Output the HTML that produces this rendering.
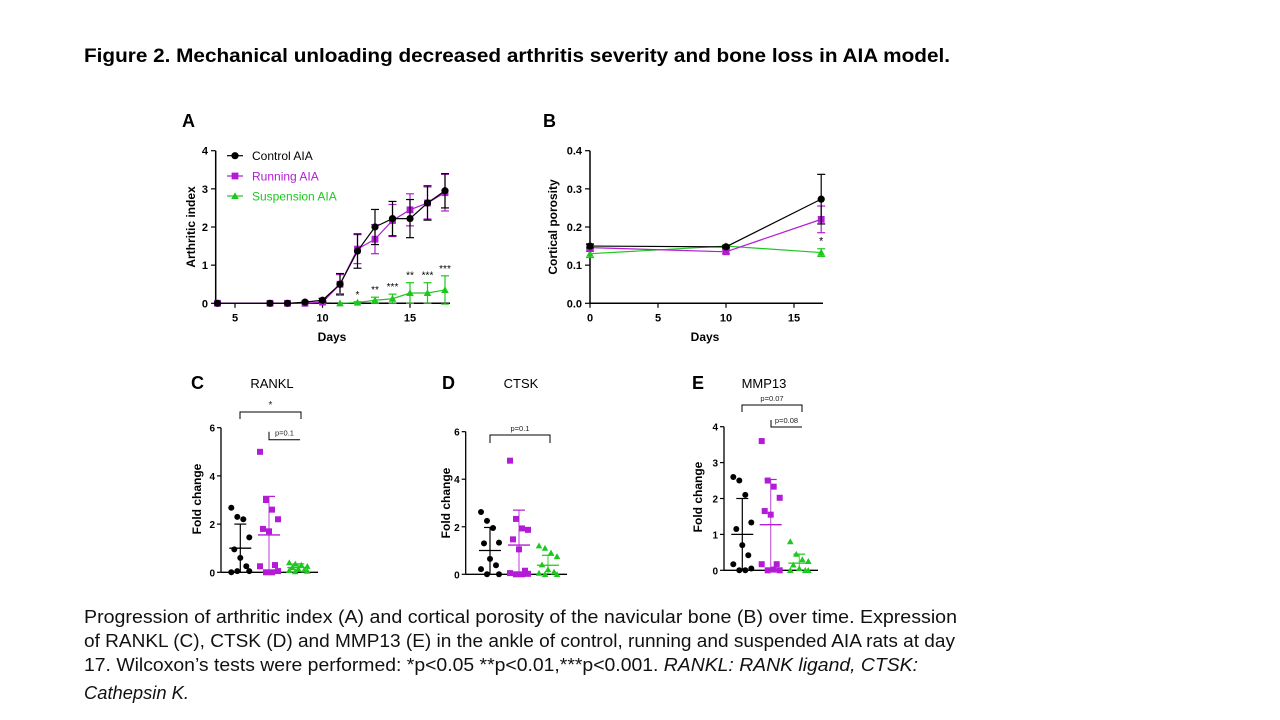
<!DOCTYPE html>
<html><head><meta charset="utf-8"><style>
html,body{margin:0;padding:0;background:#fff;}
svg{display:block;font-family:"Liberation Sans",Arial,sans-serif;}
</style></head><body>
<svg id="fig" width="1280" height="720" viewBox="0 0 1280 720" xmlns="http://www.w3.org/2000/svg">
<text x="84" y="62" font-size="19" font-weight="bold" textLength="866" lengthAdjust="spacingAndGlyphs">Figure 2. Mechanical unloading decreased arthritis severity and bone loss in AIA model.</text>
<g font-size="18" fill="#111">
<text x="84" y="623" textLength="873" lengthAdjust="spacingAndGlyphs">Progression of arthritic index (A) and cortical porosity of the navicular bone (B) over time.  Expression</text>
<text x="84" y="647" textLength="871" lengthAdjust="spacingAndGlyphs">of RANKL (C), CTSK (D) and MMP13 (E) in the ankle of control, running and suspended AIA rats at day</text>
<text x="84" y="671" textLength="834" lengthAdjust="spacingAndGlyphs">17. Wilcoxon’s tests were performed:  *p&lt;0.05 **p&lt;0.01,***p&lt;0.001.  <tspan font-style="italic">RANKL: RANK ligand, CTSK:</tspan></text>
<text x="84" y="699" font-style="italic" textLength="105" lengthAdjust="spacingAndGlyphs">Cathepsin K.</text>
</g>
<g id="plots"></g>
</svg>
<script>
// ---- Panel A data ----
const aDays = [4,7,8,9,10,11,12,13,14,15,16,17];
const aCtrl = [0,0,0,0.03,0.08,0.5,1.37,2.0,2.22,2.22,2.63,2.95];
const aCtrlErr = [0,0,0,0,0.05,0.28,0.45,0.46,0.45,0.5,0.45,0.45];
const aRun = [0,0,0,0,0.03,0.5,1.42,1.68,2.17,2.45,2.63,2.9];
const aRunErr = [0,0,0,0,0.03,0.25,0.38,0.38,0.42,0.42,0.42,0.48];
const aSuspDays = [11,12,13,14,15,16,17];
const aSusp = [0,0.02,0.08,0.12,0.27,0.27,0.35];
const aSuspErr = [0,0.02,0.08,0.12,0.27,0.27,0.37];
const aStars = ["*","*","**","***","**","***","***"];
// ---- Panel B data ----
const bDays = [0,10,17];
const bCtrl = [0.15,0.148,0.273];
const bCtrlErr = [0.005,0.003,0.065];
const bRun = [0.146,0.135,0.22];
const bRunErr = [0.01,0.005,0.035];
const bSusp = [0.13,0.15,0.133];
const bSuspErr = [0.01,0.003,0.01];
// ---- Panel C (RANKL) ----
const cCtrl = [2.68,2.3,2.2,1.45,0.95,0.6,0.25,0.0,0.05,0.05];
const cRun = [5.0,3.0,2.6,2.2,1.8,1.7,0.3,0.25,0.05,0.0,0.0];
const cSusp = [0.4,0.35,0.3,0.25,0.2,0.15,0.1,0.08,0.05,0.03];
const cMean = [1.0,1.55,0.2];
const cSd = [1.0,1.6,0.15];
// ---- Panel D (CTSK) ----
const dCtrl = [2.62,2.25,1.95,1.33,1.3,0.65,0.38,0.22,0,0];
const dRun = [4.78,2.33,1.93,1.87,1.47,1.05,0.15,0.05,0.02,0.0,0];
const dSusp = [1.2,1.1,0.9,0.75,0.4,0.2,0.1,0.05,0,0];
const dMean = [1.0,1.23,0.38];
const dSd = [0.97,1.47,0.42];
// ---- Panel E (MMP13) ----
const eCtrl = [2.6,2.5,2.1,1.33,1.15,0.7,0.42,0.17,0.05,0,0];
const eRun = [3.6,2.5,2.33,2.02,1.65,1.55,0.17,0.17,0,0,0.02];
const eSusp = [0.8,0.45,0.3,0.25,0.15,0.05,0,0,0];
const eMean = [1.0,1.27,0.2];
const eSd = [1.0,1.26,0.25];

const NS="http://www.w3.org/2000/svg";
const root=document.getElementById('plots');
const BLK="#000", PUR="#b31bd6", GRN="#1ec71e";
function el(tag,attrs,parent,text){const e=document.createElementNS(NS,tag);for(const k in attrs)e.setAttribute(k,attrs[k]);if(text!==undefined)e.textContent=text;(parent||root).appendChild(e);return e;}
function grp(name){const g=el('g',{});return g;}
function marker(g,type,x,y,c,s){
  let m;
  if(type==='c') m=el('circle',{cx:x,cy:y,r:s||3.6,fill:c},g);
  else if(type==='s'){const h=s||3.4;m=el('rect',{x:x-h,y:y-h,width:2*h,height:2*h,fill:c},g);}
  else {const h=s||3.8;m=el('polygon',{points:`${x},${y-h} ${x+h},${y+h*0.8} ${x-h},${y+h*0.8}`,fill:c},g);}
  return m;
}
function text(g,x,y,t,o){return el('text',Object.assign({x:x,y:y},o||{}),g,t);}

// ===== Panel A =====
(function(){
  const g=grp('panel-a-arthritic-index');
  const X=d=>217.5+(d-4)*17.5, Y=v=>303.3-v*38.15;
  text(g,182,127,'A',{'font-size':18,'font-weight':'bold'});
  el('line',{x1:215.7,y1:Y(4),x2:215.7,y2:Y(0),stroke:BLK,'stroke-width':1.5},g);
  el('line',{x1:215.7,y1:Y(0),x2:450,y2:Y(0),stroke:BLK,'stroke-width':1.5},g);
  [0,1,2,3,4].forEach(v=>{el('line',{x1:211,y1:Y(v),x2:215.7,y2:Y(v),stroke:BLK,'stroke-width':1.2},g);text(g,208,Y(v)+4,String(v),{'font-size':11,'font-weight':'bold','text-anchor':'end'});});
  [5,10,15].forEach(d=>{el('line',{x1:X(d),y1:Y(0),x2:X(d),y2:Y(0)+4.5,stroke:BLK,'stroke-width':1.2},g);text(g,X(d),Y(0)+18,String(d),{'font-size':11,'font-weight':'bold','text-anchor':'middle'});});
  text(g,332,341,'Days',{'font-size':12,'font-weight':'bold','text-anchor':'middle'});
  text(g,0,0,'Arthritic index',{'font-size':12,'font-weight':'bold','text-anchor':'middle',transform:`translate(195,227) rotate(-90)`});
  function series(days,vals,errs,c,m,name,w){
    const s=el('g',{},g);
    el('polyline',{points:days.map((d,i)=>X(d)+','+Y(vals[i])).join(' '),fill:'none',stroke:c,'stroke-width':w||1.2},s);
    days.forEach((d,i)=>{if(errs[i]>0){el('line',{x1:X(d),y1:Y(vals[i]-errs[i]),x2:X(d),y2:Y(vals[i]+errs[i]),stroke:c,'stroke-width':1.2},s);[vals[i]-errs[i],vals[i]+errs[i]].forEach(v=>el('line',{x1:X(d)-4,y1:Y(v),x2:X(d)+4,y2:Y(v),stroke:c,'stroke-width':1.2},s));}});
    days.forEach((d,i)=>marker(s,m,X(d),Y(vals[i]),c));
  }
  series(aSuspDays,aSusp,aSuspErr,GRN,'t','series-suspension-aia');
  series(aDays,aRun,aRunErr,PUR,'s','series-running-aia');
  series(aDays,aCtrl,aCtrlErr,BLK,'c','series-control-aia');
  aSuspDays.forEach((d,i)=>{const t=text(g,X(d),Y(aSusp[i]+aSuspErr[i])-4,aStars[i],{'font-size':10,'text-anchor':'middle',fill:i===0?'#777':BLK});});
  const lg=el('g',{},g);
  [['Control AIA',BLK,'c',155.7],['Running AIA',PUR,'s',176],['Suspension AIA',GRN,'t',196]].forEach(r=>{
    const e=el('g',{},lg);
    el('line',{x1:227,y1:r[3],x2:243,y2:r[3],stroke:r[1],'stroke-width':1.2},e);marker(e,r[2],235,r[3],r[1]);
    text(e,252,r[3]+4.5,r[0],{'font-size':12,fill:r[1]});
  });
})();

// ===== Panel B =====
(function(){
  const g=grp('panel-b-cortical-porosity');
  const X=d=>590+d*13.6, Y=v=>303.3-v*381.5;
  text(g,543,127,'B',{'font-size':18,'font-weight':'bold'});
  el('line',{x1:590,y1:Y(0.4),x2:590,y2:Y(0),stroke:BLK,'stroke-width':1.5},g);
  el('line',{x1:590,y1:Y(0),x2:823,y2:Y(0),stroke:BLK,'stroke-width':1.5},g);
  [0,0.1,0.2,0.3,0.4].forEach(v=>{el('line',{x1:585,y1:Y(v),x2:590,y2:Y(v),stroke:BLK,'stroke-width':1.2},g);text(g,582,Y(v)+4,v.toFixed(1),{'font-size':11,'font-weight':'bold','text-anchor':'end'});});
  [0,5,10,15].forEach(d=>{el('line',{x1:X(d),y1:Y(0),x2:X(d),y2:Y(0)+4.5,stroke:BLK,'stroke-width':1.2},g);text(g,X(d),Y(0)+18,String(d),{'font-size':11,'font-weight':'bold','text-anchor':'middle'});});
  text(g,705,341,'Days',{'font-size':12,'font-weight':'bold','text-anchor':'middle'});
  text(g,0,0,'Cortical porosity',{'font-size':12,'font-weight':'bold','text-anchor':'middle',transform:`translate(557,227) rotate(-90)`});
  function series(vals,errs,c,m,name){
    const s=el('g',{},g);
    el('polyline',{points:bDays.map((d,i)=>X(d)+','+Y(vals[i])).join(' '),fill:'none',stroke:c,'stroke-width':1.2},s);
    bDays.forEach((d,i)=>{el('line',{x1:X(d),y1:Y(vals[i]-errs[i]),x2:X(d),y2:Y(vals[i]+errs[i]),stroke:c,'stroke-width':1.2},s);[vals[i]-errs[i],vals[i]+errs[i]].forEach(v=>el('line',{x1:X(d)-4,y1:Y(v),x2:X(d)+4,y2:Y(v),stroke:c,'stroke-width':1.2},s));});
    bDays.forEach((d,i)=>marker(s,m,X(d),Y(vals[i]),c));
  }
  series(bSusp,bSuspErr,GRN,'t','series-suspension-aia');
  series(bRun,bRunErr,PUR,'s','series-running-aia');
  series(bCtrl,bCtrlErr,BLK,'c','series-control-aia');
  text(g,X(17),Y(bSusp[2]+bSuspErr[2])-4,'*',{'font-size':11,'text-anchor':'middle'});
})();

// ===== Scatter panels =====
const jit=[-9,-3,3,9,-6,0,6,-9,9,-3,3];
function scatter(cfg){
  const g=grp(cfg.name);
  const Y=v=>cfg.y0-v*cfg.ys;
  text(g,cfg.lx,cfg.ly,cfg.letter,{'font-size':18,'font-weight':'bold'});
  text(g,cfg.tx,cfg.ly-1,cfg.title,{'font-size':13,'text-anchor':'middle'});
  el('line',{x1:cfg.ax,y1:Y(cfg.max),x2:cfg.ax,y2:Y(0),stroke:BLK,'stroke-width':1.3},g);
  el('line',{x1:cfg.ax,y1:Y(0),x2:cfg.xe,y2:Y(0),stroke:BLK,'stroke-width':1.3},g);
  cfg.ticks.forEach(v=>{el('line',{x1:cfg.ax-4,y1:Y(v),x2:cfg.ax,y2:Y(v),stroke:BLK,'stroke-width':1.2},g);text(g,cfg.ax-6,Y(v)+4,String(v),{'font-size':10,'font-weight':'bold','text-anchor':'end'});});
  text(g,0,0,'Fold change',{'font-size':12,'font-weight':'bold','text-anchor':'middle',transform:`translate(${cfg.ylx},${cfg.yly}) rotate(-90)`});
  const cols=[BLK,PUR,GRN], ms=['c','s','t'], names=['group-control','group-running','group-suspension'];
  cfg.groups.forEach((vals,gi)=>{
    const cx=cfg.gx[gi];
    const s=el('g',{},g);
    const lo=Math.max(0,cfg.mean[gi]-cfg.sd[gi]),hi=cfg.mean[gi]+cfg.sd[gi];
    el('line',{x1:cx,y1:Y(lo),x2:cx,y2:Y(hi),stroke:cols[gi],'stroke-width':1.2,opacity:gi?0.7:1},s);
    el('line',{x1:cx-6,y1:Y(hi),x2:cx+6,y2:Y(hi),stroke:cols[gi],'stroke-width':1.2},s);
    el('line',{x1:cx-11,y1:Y(cfg.mean[gi]),x2:cx+11,y2:Y(cfg.mean[gi]),stroke:cols[gi],'stroke-width':1.3},s);
    vals.forEach((v,i)=>marker(s,ms[gi],cx+jit[i%jit.length],Y(v),cols[gi],gi===2?3.3:3)); 
  });
  cfg.brackets.forEach(b=>{
    const bg=el('g',{},g);
    el('polyline',{points:`${b.x1},${b.y+b.d} ${b.x1},${b.y} ${b.x2},${b.y} ${b.x2},${b.y+b.d2}`,fill:'none',stroke:BLK,'stroke-width':1},bg);
    text(bg,(b.x1+b.x2)/2,b.y-4,b.t,{'font-size':b.t==='*'?10:7.5,'text-anchor':'middle',fill:'#222'});
  });
}
scatter({name:'panel-c-rankl',letter:'C',title:'RANKL',lx:191,ly:389,tx:272,ax:221,xe:318,y0:572.3,ys:24.1,max:6,ticks:[0,2,4,6],ylx:201,yly:499,
  gx:[240.3,269,298.3],groups:[cCtrl,cRun,cSusp],mean:cMean,sd:cSd,
  brackets:[{x1:240,x2:301,y:412,d:7,d2:7,t:'*'},{x1:269,x2:300,y:439.7,d:-8,d2:0,t:'p=0.1'}]});
scatter({name:'panel-d-ctsk',letter:'D',title:'CTSK',lx:442,ly:389,tx:521,ax:465.7,xe:567,y0:574.3,ys:23.77,max:6,ticks:[0,2,4,6],ylx:450,yly:503,
  gx:[490,519,548],groups:[dCtrl,dRun,dSusp],mean:dMean,sd:dSd,
  brackets:[{x1:490,x2:550,y:435,d:8,d2:8,t:'p=0.1'}]});
scatter({name:'panel-e-mmp13',letter:'E',title:'MMP13',lx:692,ly:389,tx:764,ax:724,xe:818,y0:570.3,ys:35.9,max:4,ticks:[0,1,2,3,4],ylx:702,yly:497,
  gx:[742.3,770.7,799.3],groups:[eCtrl,eRun,eSusp],mean:eMean,sd:eSd,
  brackets:[{x1:742,x2:802,y:405,d:7,d2:7,t:'p=0.07'},{x1:771,x2:802,y:427,d:-7,d2:0,t:'p=0.08'}]});
</script>
</body></html>
